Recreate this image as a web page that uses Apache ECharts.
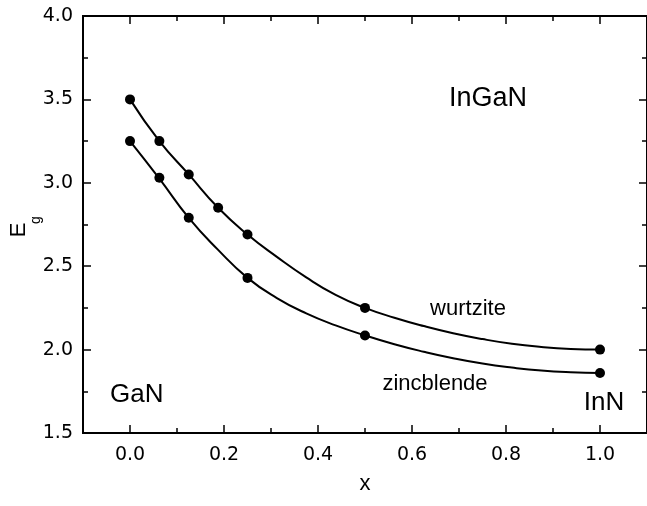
<!DOCTYPE html>
<html><head><meta charset="utf-8">
<script src="https://cdn.jsdelivr.net/npm/echarts@6/dist/echarts.min.js"></script>
<style>html,body{margin:0;padding:0;background:#fff}#c{width:647px;height:506px}</style>
</head><body><div id="c"></div>
<script>
const xMajorTicks = [0.0, 0.2, 0.4, 0.6, 0.8, 1.0];
const xMinorTicks = [0.1, 0.3, 0.5, 0.7, 0.9];
const wurtziteX = [0, 0.0625, 0.125, 0.1875, 0.25, 0.5, 1.0];
const wurtziteY = [3.50, 3.25, 3.05, 2.85, 2.69, 2.25, 2.00];
const zincblendeX = [0, 0.0625, 0.125, 0.25, 0.5, 1.0];
const zincblendeY = [3.25, 3.03, 2.79, 2.43, 2.085, 1.86];
// fitted curves
const fitX = [0, 0.0625, 0.125, 0.1875, 0.25, 0.3125, 0.375, 0.4375, 0.5,
              0.5625, 0.625, 0.6875, 0.75, 0.8125, 0.875, 0.9375, 1.0];
const wurtziteFitY = [3.50, 3.25, 3.05, 2.85, 2.69, 2.556, 2.433, 2.328, 2.25,
                      2.191, 2.141, 2.098, 2.063, 2.035, 2.016, 2.004, 2.00];
const zincblendeFitY = [3.25, 3.025, 2.79, 2.598, 2.43, 2.309, 2.217, 2.145, 2.085,
                        2.032, 1.987, 1.948, 1.916, 1.892, 1.874, 1.864, 1.86];

const FONT = '"Liberation Sans", Arial, Helvetica, sans-serif';
const NUMFONT = '"DejaVu Sans", sans-serif';
const zip = (a, b) => a.map((v, i) => [v, b[i]]);
const blk = {color: '#000', width: 1.5};

function xAx(pos, ticks, len, labels) {
  return {
    type: 'value', position: pos, min: -0.1, max: 1.1,
    axisLine: {show: labels !== null, onZero: false, lineStyle: {color: '#000', width: 2}},
    axisTick: {show: true, inside: true, length: len, customValues: ticks, lineStyle: blk},
    axisLabel: labels ? {show: true, customValues: ticks, formatter: v => v.toFixed(1),
      fontSize: 19, color: '#000', margin: 13, fontFamily: NUMFONT} : {show: false},
    splitLine: {show: false}
  };
}
function yAx(pos, labels) {
  return {
    type: 'value', position: pos, min: 1.5, max: 4.0, interval: 0.5,
    axisLine: {show: true, onZero: false, lineStyle: {color: '#000', width: 2}},
    axisTick: {show: true, inside: true, length: 8, lineStyle: blk},
    minorTick: {show: true, splitNumber: 2, length: 5, lineStyle: blk},
    axisLabel: labels ? {show: true, formatter: v => v.toFixed(1), fontSize: 19, color: '#000',
      margin: 10, fontFamily: NUMFONT} : {show: false},
    splitLine: {show: false}, minorSplitLine: {show: false}
  };
}

const xMain = xAx('bottom', xMajorTicks, 8, true);
xMain.name = 'x';
xMain.nameLocation = 'middle';
xMain.nameGap = 40;
xMain.nameTextStyle = {fontSize: 22, color: '#000', fontFamily: FONT};

const line = {color: '#000', width: 2};
const dot = {color: '#000', opacity: 1};

const chart = echarts.init(document.getElementById('c'), null, {renderer: 'canvas'});
chart.setOption({
  animation: false,
  backgroundColor: '#fff',
  grid: {left: 83, top: 16, bottom: 73, right: -3, containLabel: false},
  xAxis: [
    xMain,
    xAx('bottom', xMinorTicks, 5, false),
    xAx('top', xMajorTicks, 8, false),
    xAx('top', xMinorTicks, 5, false)
  ],
  yAxis: [yAx('left', true), yAx('right', false)],
  series: [
    {type: 'line', xAxisIndex: 0, yAxisIndex: 0, data: zip(fitX, wurtziteFitY),
      smooth: 0.5, symbol: 'none', lineStyle: line, silent: true},
    {type: 'line', xAxisIndex: 0, yAxisIndex: 0, data: zip(fitX, zincblendeFitY),
      smooth: 0.5, symbol: 'none', lineStyle: line, silent: true},
    {type: 'scatter', xAxisIndex: 0, yAxisIndex: 0, data: zip(wurtziteX, wurtziteY),
      symbol: 'circle', symbolSize: 10, itemStyle: dot},
    {type: 'scatter', xAxisIndex: 0, yAxisIndex: 0, data: zip(zincblendeX, zincblendeY),
      symbol: 'circle', symbolSize: 10, itemStyle: dot}
  ],
  graphic: [
    {type: 'group', x: 19, y: 230, rotation: Math.PI / 2, children: [
      {type: 'text', x: 0, y: 0,
        style: {text: 'E', fontSize: 22, fontFamily: FONT, fill: '#000', align: 'center', verticalAlign: 'middle'}},
      {type: 'text', x: 10, y: 17,
        style: {text: 'g', fontSize: 14, fontFamily: FONT, fill: '#000', align: 'center', verticalAlign: 'middle'}}
    ]},
    {type: 'text', x: 488, y: 99,
      style: {text: 'InGaN', fontSize: 27, fontFamily: FONT, fill: '#000', align: 'center', verticalAlign: 'middle'}},
    {type: 'text', x: 110, y: 395,
      style: {text: 'GaN', fontSize: 26, fontFamily: FONT, fill: '#000', align: 'left', verticalAlign: 'middle'}},
    {type: 'text', x: 604, y: 403,
      style: {text: 'InN', fontSize: 26, fontFamily: FONT, fill: '#000', align: 'center', verticalAlign: 'middle'}},
    {type: 'text', x: 468, y: 309,
      style: {text: 'wurtzite', fontSize: 22, fontFamily: FONT, fill: '#000', align: 'center', verticalAlign: 'middle'}},
    {type: 'text', x: 435, y: 384,
      style: {text: 'zincblende', fontSize: 22, fontFamily: FONT, fill: '#000', align: 'center', verticalAlign: 'middle'}}
  ]
});
</script>
</body></html>
